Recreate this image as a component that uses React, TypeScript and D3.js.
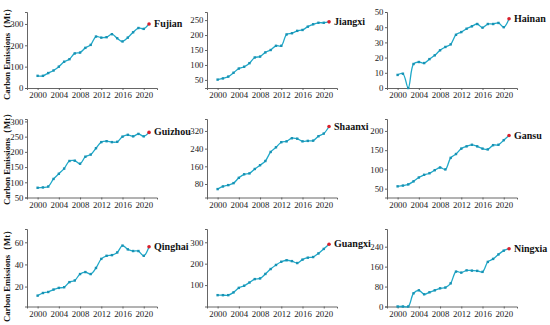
import React, { useEffect, useRef } from 'react';
import * as d3 from 'd3';

// years on the x axis
const years = d3.range(2000, 2022);
const yearTicks = [2000, 2004, 2008, 2012, 2016, 2020];

// carbon emissions (Mt), 2000-2021
const fujian = [57, 57, 70, 82, 100, 123, 135, 162, 166, 188, 202, 241, 236, 238, 252, 233, 218, 236, 261, 281, 277, 300];
const jiangxi = [51, 55, 61, 74, 88, 94, 106, 125, 128, 142, 150, 164, 164, 202, 206, 214, 217, 228, 236, 241, 241, 244];
const hainan = [8.6, 9.4, 0, 15.8, 17.1, 16.4, 19, 21.5, 24.8, 27, 28.7, 35, 36.8, 39, 40.6, 42.1, 39.7, 42.1, 42.1, 42.8, 40, 45.6];
const guizhou = [82, 83, 86, 111, 128, 145, 170, 171, 161, 184, 191, 212, 232, 235, 232, 233, 250, 256, 251, 259, 251, 264];
const shaanxi = [57, 69, 75, 84, 108, 124, 128, 148, 165, 184, 225, 246, 269, 273, 287, 285, 273, 275, 276, 296, 308, 340];
const gansu = [56, 58, 61, 69, 79, 86, 90, 98, 105, 100, 130, 140, 154, 160, 164, 160, 154, 152, 163, 164, 176, 188];
const qinghai = [11.8, 14.2, 15.1, 17.3, 18.8, 19.4, 24, 25.5, 31.3, 33.1, 31.3, 36.8, 45, 47.8, 48.4, 50.8, 57, 53.6, 52.1, 52.1, 47.8, 56];
const guangxi = [53, 53, 53, 66, 87, 97, 112, 128, 131, 152, 175, 194, 209, 216, 212, 203, 219, 228, 231, 248, 269, 291];
const ningxia = [0, 0, 0, 53, 65, 49, 57, 65, 73, 76, 93, 140, 136, 145, 144, 143, 139, 179, 191, 209, 224, 232];

// panels in reading order
const names = ['Fujian', 'Jiangxi', 'Hainan', 'Guizhou', 'Shaanxi', 'Gansu', 'Qinghai', 'Guangxi', 'Ningxia'];
const series = [fujian, jiangxi, hainan, guizhou, shaanxi, gansu, qinghai, guangxi, ningxia];
const yDomains = [[0, 356], [23, 277], [0, 50], [50, 308], [19, 374], [27, 231], [2, 72], [0, 362], [0, 311]];
const yTicks = [
  [0, 100, 200, 300],
  [50, 100, 150, 200, 250],
  [0, 10, 20, 30, 40, 50],
  [50, 100, 150, 200, 250, 300],
  [80, 160, 240, 320],
  [50, 100, 150, 200],
  [20, 40, 60],
  [100, 200, 300],
  [0, 80, 160, 240],
];

const yLabel = 'Carbon Emissions（Mt）';

const App = () => {
  const ref = useRef<SVGSVGElement>(null);

  useEffect(() => {
    const svg = d3.select(ref.current);
    svg.selectAll('*').remove();

    const rows = [[12, 88], [119, 197.5], [229, 306.5]];
    const labelY = [52, 157, 274];
    const colX = [27, 207, 387];
    const axisW = 130;
    const font = "'Liberation Serif', 'Times New Roman', serif";
    const lineColor = '#1fa9c9';
    const axisColor = '#555';

    // y axis titles, one per row
    labelY.forEach(cy => {
      svg.append('text')
        .attr('transform', `translate(9.5,${cy}) rotate(-90)`)
        .attr('text-anchor', 'middle')
        .style('font-family', font)
        .style('font-weight', 'bold')
        .style('font-size', '8.6px')
        .attr('fill', '#111')
        .text(yLabel);
    });

    series.forEach((values, i) => {
      const [top, bottom] = rows[Math.floor(i / 3)];
      const left = colX[i % 3];

      const x = d3.scaleLinear().domain([1998, 2022.5]).range([left, left + axisW]);
      const y = d3.scaleLinear().domain(yDomains[i]).range([bottom, top]);

      const g = svg.append('g');

      // axes
      const xAxis = g.append('g')
        .attr('transform', `translate(0,${bottom})`)
        .call(d3.axisBottom(x).tickValues(yearTicks).tickFormat(d3.format('d')).tickSizeOuter(0).tickSize(2).tickPadding(2));
      const yAxis = g.append('g')
        .attr('transform', `translate(${left},0)`)
        .call(d3.axisLeft(y).tickValues(yTicks[i]).tickSizeOuter(0).tickSize(2).tickPadding(1.5));

      [xAxis, yAxis].forEach(ax => {
        ax.attr('font-family', null);
        ax.selectAll('path, line').attr('stroke', axisColor).attr('stroke-width', 0.9);
        ax.selectAll('text')
          .style('font-family', font)
          .style('font-size', '8.8px')
          .attr('fill', '#222');
      });

      const pts = values.map((v, k) => [years[k], v] as [number, number]);

      // the line
      g.append('path')
        .datum(pts)
        .attr('fill', 'none')
        .attr('stroke', lineColor)
        .attr('stroke-width', 1.3)
        .attr('d', d3.line<[number, number]>()
          .x(d => x(d[0]))
          .y(d => y(d[1]))
          .curve(d3.curveCatmullRom));

      // square markers, last one red
      g.selectAll('rect.pt')
        .data(pts.slice(0, -1))
        .enter()
        .append('rect')
        .attr('x', d => x(d[0]) - 1.2)
        .attr('y', d => y(d[1]) - 1.2)
        .attr('width', 2.4)
        .attr('height', 2.4)
        .attr('fill', '#1892b4');

      const last = pts[pts.length - 1];
      g.append('circle')
        .attr('cx', x(last[0]))
        .attr('cy', y(last[1]))
        .attr('r', 1.8)
        .attr('fill', '#d8202c');

      g.append('text')
        .attr('x', x(last[0]) + 5)
        .attr('y', y(last[1]) + 3)
        .style('font-family', font)
        .style('font-weight', 'bold')
        .style('font-size', '10px')
        .attr('fill', '#111')
        .text(names[i]);
    });
  }, []);

  return (
    <svg ref={ref} width={550} height={325} style={{ position: 'absolute', left: 0, top: 0, background: '#fff' }}></svg>
  );
};

export default App;
